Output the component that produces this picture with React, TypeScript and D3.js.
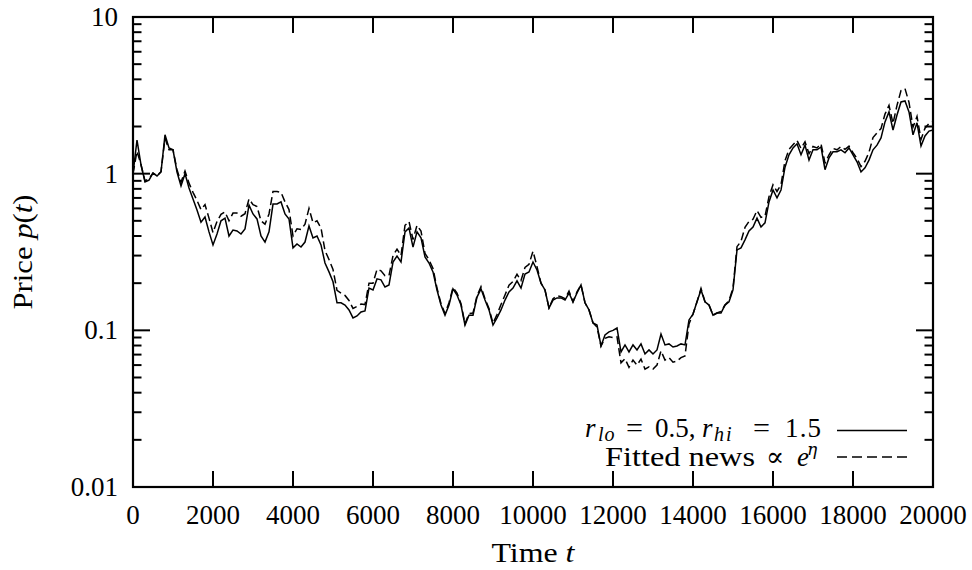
import React from "react";
import * as d3 from "d3";

// Sampling interval of the simulated price series
const STEP = 100;

// Simulated price with r_lo = 0.5, r_hi = 1.5 (one value every STEP time units)
const priceModel: number[] = [
  1.0, 1.64, 1.14, 0.885, 0.91, 1.01, 0.967, 1.025, 1.77, 1.46,
  1.42, 1.025, 0.835, 1.0, 0.81, 0.69, 0.587, 0.49, 0.529, 0.425,
  0.351, 0.412, 0.5, 0.52, 0.4, 0.437, 0.431, 0.412, 0.444, 0.63,
  0.553, 0.514, 0.4, 0.366, 0.425, 0.64, 0.64, 0.66, 0.553, 0.514,
  0.336, 0.356, 0.34, 0.366, 0.464, 0.389, 0.4, 0.351, 0.269, 0.236,
  0.204, 0.15, 0.15, 0.145, 0.135, 0.12, 0.1235, 0.131, 0.133, 0.186,
  0.181, 0.213, 0.21, 0.189, 0.195, 0.273, 0.298, 0.273, 0.425, 0.45,
  0.34, 0.425, 0.389, 0.294, 0.269, 0.236, 0.181, 0.145, 0.125, 0.145,
  0.184, 0.168, 0.145, 0.108, 0.125, 0.125, 0.163, 0.184, 0.156, 0.135,
  0.108, 0.12, 0.135, 0.156, 0.176, 0.186, 0.207, 0.186, 0.229, 0.236,
  0.273, 0.243, 0.2, 0.181, 0.139, 0.156, 0.161, 0.161, 0.156, 0.173,
  0.152, 0.173, 0.195, 0.15, 0.135, 0.1115, 0.108, 0.0795, 0.0935, 0.0977,
  0.1, 0.1035, 0.0728, 0.0807, 0.0728, 0.0807, 0.075, 0.0819, 0.0707, 0.075,
  0.0707, 0.075, 0.0948, 0.0807, 0.0819, 0.0783, 0.0795, 0.0819, 0.0807, 0.1165,
  0.127, 0.152, 0.181, 0.152, 0.145, 0.125, 0.129, 0.129, 0.145, 0.152,
  0.181, 0.326, 0.336, 0.378, 0.431, 0.457, 0.52, 0.457, 0.485, 0.66,
  0.787, 0.7, 0.787, 1.1, 1.32, 1.46, 1.55, 1.32, 1.52, 1.22,
  1.42, 1.42, 1.48, 1.06, 1.26, 1.38, 1.38, 1.42, 1.36, 1.46,
  1.32, 1.19, 1.025, 1.09, 1.22, 1.42, 1.52, 1.69, 2.14, 2.48,
  1.9, 2.37, 2.87, 2.91, 2.48, 1.77, 2.11, 1.5, 1.74, 1.87,
  1.9,
];

// Price driven by fitted news proportional to e^eta
const priceFitted: number[] = [
  1.0, 1.39, 1.14, 0.9, 0.93, 1.01, 0.97, 1.03, 1.68, 1.42,
  1.42, 1.06, 0.88, 1.04, 0.87, 0.76, 0.675, 0.59, 0.635, 0.52,
  0.42, 0.495, 0.55, 0.57, 0.5, 0.56, 0.56, 0.535, 0.555, 0.69,
  0.635, 0.617, 0.5, 0.476, 0.553, 0.77, 0.77, 0.76, 0.66, 0.59,
  0.4, 0.445, 0.44, 0.476, 0.6, 0.486, 0.5, 0.45, 0.323, 0.283,
  0.245, 0.18, 0.173, 0.167, 0.155, 0.138, 0.142, 0.147, 0.146, 0.2,
  0.2, 0.245, 0.24, 0.223, 0.224, 0.3, 0.33, 0.3, 0.468, 0.495,
  0.38, 0.468, 0.43, 0.31, 0.282, 0.248, 0.186, 0.148, 0.128, 0.15,
  0.188, 0.173, 0.148, 0.11, 0.128, 0.129, 0.166, 0.19, 0.159, 0.138,
  0.111, 0.126, 0.146, 0.168, 0.194, 0.205, 0.228, 0.208, 0.252, 0.264,
  0.32, 0.255, 0.2, 0.181, 0.139, 0.159, 0.166, 0.164, 0.159, 0.178,
  0.152, 0.176, 0.195, 0.15, 0.135, 0.1115, 0.105, 0.0795, 0.089, 0.091,
  0.09, 0.091, 0.062, 0.066, 0.058, 0.0646, 0.06, 0.0655, 0.0566, 0.0585,
  0.0566, 0.06, 0.074, 0.0646, 0.067, 0.0626, 0.0636, 0.067, 0.0686, 0.11,
  0.127, 0.152, 0.185, 0.152, 0.145, 0.125, 0.129, 0.132, 0.145, 0.155,
  0.186, 0.342, 0.37, 0.454, 0.496, 0.512, 0.582, 0.526, 0.534, 0.713,
  0.85, 0.77, 0.85, 1.21, 1.43, 1.53, 1.63, 1.45, 1.6, 1.34,
  1.49, 1.46, 1.55, 1.17, 1.32, 1.45, 1.42, 1.49, 1.43, 1.5,
  1.36, 1.25, 1.11, 1.2, 1.37, 1.7, 1.82, 1.94, 2.4, 2.73,
  2.09, 2.73, 3.39, 3.49, 2.85, 1.98, 2.32, 1.65, 1.95, 2.09,
  2.15,
];

const xTicks: number[] = [0, 2000, 4000, 6000, 8000, 10000, 12000, 14000, 16000, 18000, 20000];
const yMajorTicks: number[] = [0.01, 0.1, 1, 10];
const yTickLabels: string[] = ["0.01", "0.1", "1", "10"];

const W = 972;
const H = 570;
const left = 133;
const right = 933;
const top = 17;
const bottom = 487;
const FONT = "'Liberation Serif', 'DejaVu Serif', serif";
const FS = 27;
const SUB = 20;

export default function App() {
  const x = d3.scaleLinear().domain([0, 20000]).range([left, right]);
  const y = d3.scaleLog().domain([0.01, 10]).range([bottom, top]);

  const line = d3
    .line<number>()
    .x((_, i) => x(i * STEP))
    .y((v) => y(v));

  const minorTicks: number[] = [];
  for (const base of [0.01, 0.1, 1]) {
    for (let m = 2; m <= 9; m++) minorTicks.push(base * m);
  }

  const majorLen = 17;
  const minorLen = 8.5;
  const tickStroke = 2;
  const legendY1 = 437;
  const legendY2 = 465.5;

  return (
    <svg
      width={W}
      height={H}
      style={{ position: "absolute", left: 0, top: 0, background: "#fff" }}
      fontFamily={FONT}
    >
      <rect x={0} y={0} width={W} height={H} fill="#fff" />

      {/* data series */}
      <path d={line(priceFitted) ?? ""} fill="none" stroke="#000" strokeWidth={1.5} strokeDasharray="8,4" />
      <path d={line(priceModel) ?? ""} fill="none" stroke="#000" strokeWidth={1.5} />

      {/* x ticks, bottom and mirrored at top */}
      {xTicks.map((t) => (
        <g key={"xt" + t}>
          <line x1={x(t)} x2={x(t)} y1={bottom} y2={bottom - majorLen + 1} stroke="#000" strokeWidth={tickStroke} />
          <line x1={x(t)} x2={x(t)} y1={top} y2={top + majorLen - 1} stroke="#000" strokeWidth={tickStroke} />
          <text x={x(t)} y={524} fontSize={FS} textAnchor="middle">
            {t}
          </text>
        </g>
      ))}

      {/* y major ticks */}
      {yMajorTicks.map((v, i) => (
        <g key={"ym" + v}>
          <line x1={left} x2={left + majorLen} y1={y(v)} y2={y(v)} stroke="#000" strokeWidth={tickStroke} />
          <line x1={right} x2={right - majorLen} y1={y(v)} y2={y(v)} stroke="#000" strokeWidth={tickStroke} />
          <text x={118} y={y(v) + 9} fontSize={FS} textAnchor="end">
            {yTickLabels[i]}
          </text>
        </g>
      ))}

      {/* y minor ticks */}
      {minorTicks.map((v) => (
        <g key={"yn" + v}>
          <line x1={left} x2={left + minorLen} y1={y(v)} y2={y(v)} stroke="#000" strokeWidth={tickStroke} />
          <line x1={right} x2={right - minorLen} y1={y(v)} y2={y(v)} stroke="#000" strokeWidth={tickStroke} />
        </g>
      ))}

      {/* frame */}
      <rect x={left} y={top} width={right - left} height={bottom - top} fill="none" stroke="#000" strokeWidth={2.2} />

      {/* legend, first entry */}
      <g fontSize={FS}>
        <text x={585} y={legendY1} fontStyle="italic">r</text>
        <text x={598} y={legendY1 + 4} fontStyle="italic" fontSize={SUB} letterSpacing={1}>lo</text>
        <text x={626} y={legendY1} textLength={17} lengthAdjust="spacingAndGlyphs">=</text>
        <text x={655} y={legendY1}>0.5,</text>
        <text x={702} y={legendY1} fontStyle="italic">r</text>
        <text x={714} y={legendY1 + 4} fontStyle="italic" fontSize={SUB} letterSpacing={2}>hi</text>
        <text x={753} y={legendY1} textLength={17} lengthAdjust="spacingAndGlyphs">=</text>
        <text x={785} y={legendY1} textLength={36} lengthAdjust="spacing">1.5</text>
      </g>
      <line x1={837} x2={907} y1={430.5} y2={430.5} stroke="#000" strokeWidth={1.5} />

      {/* legend, second entry */}
      <g fontSize={FS}>
        <text x={605} y={legendY2} textLength={150} lengthAdjust="spacingAndGlyphs">Fitted news</text>
        <text x={766} y={legendY2}>∝</text>
        <text x={797} y={legendY2} fontStyle="italic">e</text>
        <text x={807} y={legendY2 - 11} fontStyle="italic" fontSize={17} fontFamily="'DejaVu Serif', serif">η</text>
      </g>
      <line x1={837} x2={907} y1={457} y2={457} stroke="#000" strokeWidth={1.5} strokeDasharray="10,5" />

      {/* axis titles */}
      <text x={533} y={562} fontSize={FS} textAnchor="middle" textLength={83} lengthAdjust="spacingAndGlyphs">
        Time <tspan fontStyle="italic">t</tspan>
      </text>
      <text
        transform="translate(32,252) rotate(-90)"
        fontSize={FS}
        textAnchor="middle"
        textLength={115}
        lengthAdjust="spacingAndGlyphs"
      >
        Price <tspan fontStyle="italic">p</tspan>(<tspan fontStyle="italic">t</tspan>)
      </text>
    </svg>
  );
}
